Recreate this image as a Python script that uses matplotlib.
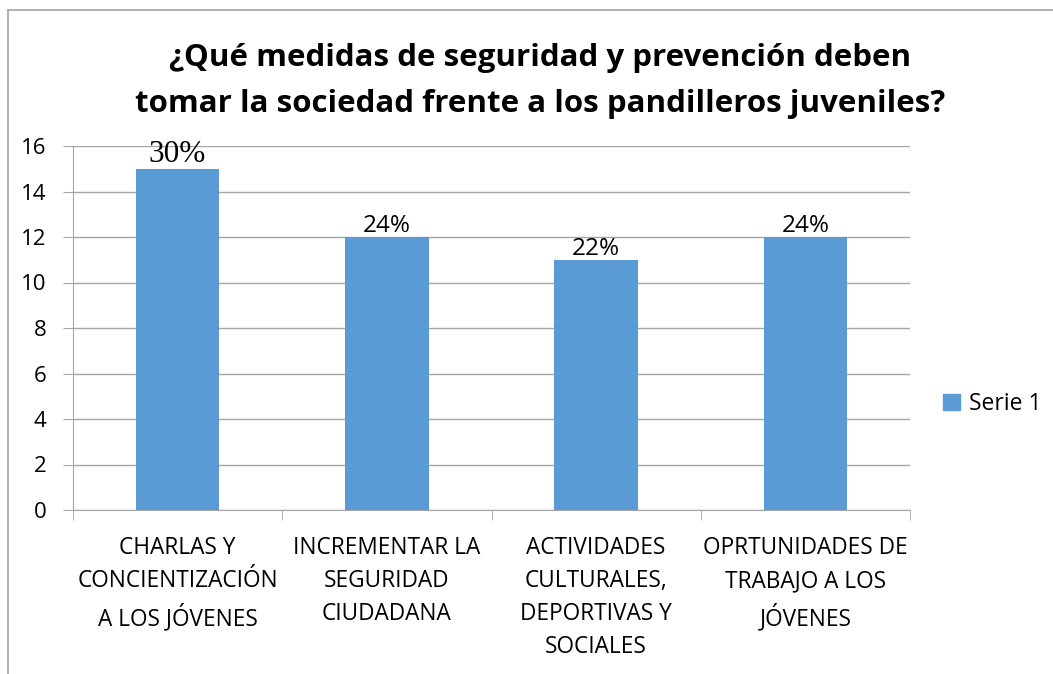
import numpy as np
import matplotlib.pyplot as plt
from matplotlib.lines import Line2D

# datos
categorias = ['CHARLAS Y\nCONCIENTIZACIÓN\nA LOS JÓVENES',
              'INCREMENTAR LA\nSEGURIDAD\nCIUDADANA',
              'ACTIVIDADES\nCULTURALES,\nDEPORTIVAS Y\nSOCIALES',
              'OPRTUNIDADES DE\nTRABAJO A LOS\nJÓVENES']
valores = [15, 12, 11, 12]
etiquetas = ['30%', '24%', '22%', '24%']
serie = 'Serie 1'
titulo = '¿Qué medidas de seguridad y prevención deben\ntomar la sociedad frente a los pandilleros juveniles?'

color_barra = '#5B9BD5'
gris = '#A6A6A6'
fuente = 'Open Sans'

fig = plt.figure(figsize=(10.53, 6.74), dpi=100)
ax = fig.add_axes([73/1053, 1 - 510/674, (910 - 73)/1053, (510 - 146)/674])

x = np.arange(len(categorias))
barras = ax.bar(x, valores, width=0.4, color=color_barra, label=serie, zorder=3)

ax.set_xlim(-0.5, len(categorias) - 0.5)
ax.set_ylim(0, 16)
ax.set_yticks(np.arange(0, 17, 2))
ax.set_yticklabels([str(v) for v in range(0, 17, 2)], fontfamily=fuente, fontsize=16)
ax.set_xticks(x)
ax.set_xticklabels(categorias, fontfamily=fuente, fontsize=16.3, linespacing=1.5)
ax.set_xticks(np.arange(-0.5, len(categorias), 1), minor=True)
ax.tick_params(axis='x', which='major', length=0, pad=19)
ax.tick_params(axis='x', which='minor', length=7, color=gris)
ax.tick_params(axis='y', length=7, color=gris, pad=12)

ax.grid(axis='y', color=gris, linewidth=1, zorder=0)
for s in ['top', 'right']:
    ax.spines[s].set_visible(False)
for s in ['left', 'bottom']:
    ax.spines[s].set_color(gris)

# etiquetas de datos (la primera en letra serif)
for i, (b, t) in enumerate(zip(barras, etiquetas)):
    if i == 0:
        ax.text(b.get_x() + b.get_width()/2, b.get_height() + 0.28, t,
                ha='center', va='baseline', fontfamily='Liberation Serif', fontsize=22.5)
    else:
        ax.text(b.get_x() + b.get_width()/2, b.get_height() + 0.2, t,
                ha='center', va='baseline', fontfamily=fuente, fontsize=17.5)

fig.text(540/1053, 1 - 81/674, titulo, ha='center', va='center',
         fontfamily=fuente, fontweight='bold', fontsize=22.5, linespacing=1.68)

leg = fig.legend(handles=[plt.Rectangle((0, 0), 1, 1, color=color_barra)], labels=[serie],
                 loc='center left', bbox_to_anchor=(922/1053, 1 - 404/674), frameon=False,
                 handlelength=0.75, handleheight=0.75, handletextpad=0.4,
                 prop={'family': fuente, 'size': 16.5})

# borde del area del grafico
fig.add_artist(Line2D([8/1053, 1], [1 - 10/674, 1 - 10/674], color=gris, lw=1.2))
fig.add_artist(Line2D([8/1053, 8/1053], [0, 1 - 10/674], color=gris, lw=1.2))

fig.savefig('out.png', dpi=100)
